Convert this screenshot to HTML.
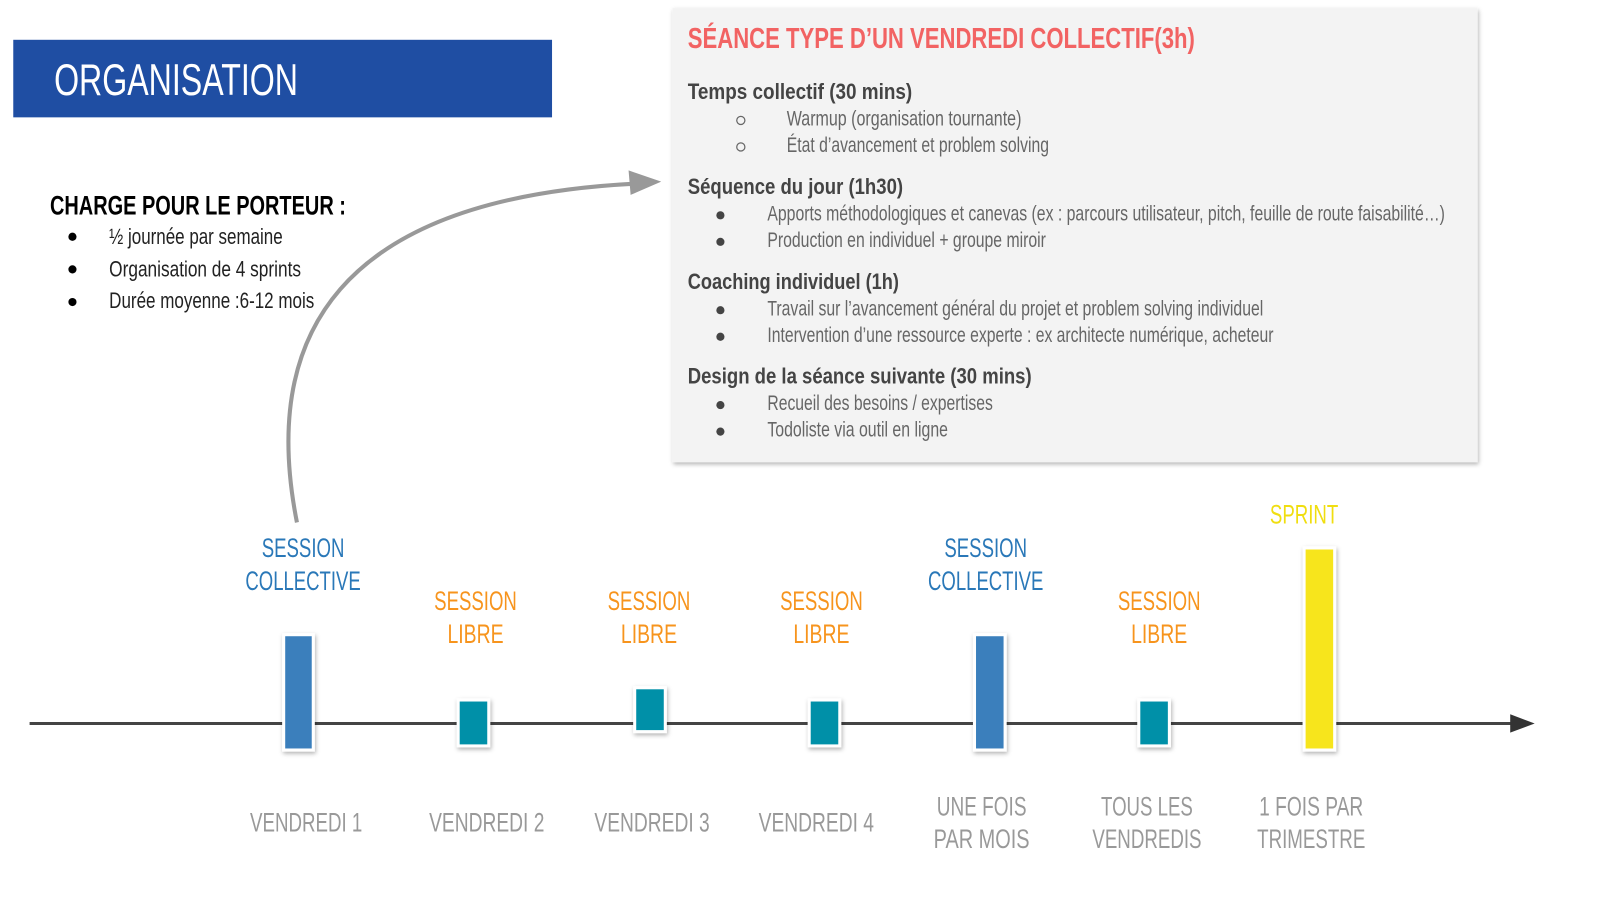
<!DOCTYPE html>
<html><head><meta charset="utf-8"><style>
html,body{margin:0;padding:0;background:#fff;width:1600px;height:900px;overflow:hidden}
text{font-family:"Liberation Sans",sans-serif}
</style></head><body>
<svg width="1600" height="900" viewBox="0 0 1568 882" preserveAspectRatio="none" xmlns="http://www.w3.org/2000/svg">
<defs>
<filter id="sh" x="-10%" y="-10%" width="130%" height="130%"><feDropShadow dx="1" dy="2" stdDeviation="2" flood-color="#000" flood-opacity="0.3"/></filter>
</defs>
<rect x="13" y="39" width="528" height="76" fill="#1f4ea3"/>
<text x="53" y="93" font-size="44" fill="#fff" textLength="239" lengthAdjust="spacingAndGlyphs">ORGANISATION</text>

<text x="49" y="210" font-size="26" font-weight="bold" fill="#000" textLength="290" lengthAdjust="spacingAndGlyphs">CHARGE POUR LE PORTEUR :</text>
<g font-size="22" fill="#222">
<circle cx="71" cy="232" r="4" fill="#000"/><circle cx="71" cy="264" r="4" fill="#000"/><circle cx="71" cy="296" r="4" fill="#000"/>
<text x="107" y="239" textLength="170" lengthAdjust="spacingAndGlyphs">½ journée par semaine</text>
<text x="107" y="271" textLength="188" lengthAdjust="spacingAndGlyphs">Organisation de 4 sprints</text>
<text x="107" y="302" textLength="201" lengthAdjust="spacingAndGlyphs">Durée moyenne :6-12 mois</text>
</g>

<rect x="659" y="8" width="789" height="445" fill="#f3f3f3" filter="url(#sh)"/>
<text x="674" y="47" font-size="28" font-weight="bold" fill="#f26363" textLength="497" lengthAdjust="spacingAndGlyphs">SÉANCE TYPE D’UN VENDREDI COLLECTIF(3h)</text>
<g font-size="22" font-weight="bold" fill="#444">
<text x="674" y="97" textLength="220" lengthAdjust="spacingAndGlyphs">Temps collectif (30 mins)</text>
<text x="674" y="190" textLength="211" lengthAdjust="spacingAndGlyphs">Séquence du jour (1h30)</text>
<text x="674" y="283" textLength="207" lengthAdjust="spacingAndGlyphs">Coaching individuel (1h)</text>
<text x="674" y="376" textLength="337" lengthAdjust="spacingAndGlyphs">Design de la séance suivante (30 mins)</text>
</g>
<g font-size="21" fill="#666">
<circle cx="726" cy="118" r="4" fill="none" stroke="#666" stroke-width="1.2"/>
<circle cx="726" cy="144" r="4" fill="none" stroke="#666" stroke-width="1.2"/>
<text x="771" y="123" textLength="230" lengthAdjust="spacingAndGlyphs">Warmup (organisation tournante)</text>
<text x="771" y="149" textLength="257" lengthAdjust="spacingAndGlyphs">État d’avancement et problem solving</text>
<g fill="#444"><circle cx="706" cy="211" r="4"/><circle cx="706" cy="237" r="4"/><circle cx="706" cy="304" r="4"/><circle cx="706" cy="330" r="4"/><circle cx="706" cy="397" r="4"/><circle cx="706" cy="423" r="4"/></g>
<text x="752" y="216" textLength="664" lengthAdjust="spacingAndGlyphs">Apports méthodologiques et canevas (ex : parcours utilisateur, pitch, feuille de route faisabilité…)</text>
<text x="752" y="242" textLength="273" lengthAdjust="spacingAndGlyphs">Production en individuel + groupe miroir</text>
<text x="752" y="309" textLength="486" lengthAdjust="spacingAndGlyphs">Travail sur l’avancement général du projet et problem solving individuel</text>
<text x="752" y="335" textLength="496" lengthAdjust="spacingAndGlyphs">Intervention d’une ressource experte : ex architecte numérique, acheteur</text>
<text x="752" y="402" textLength="221" lengthAdjust="spacingAndGlyphs">Recueil des besoins / expertises</text>
<text x="752" y="428" textLength="177" lengthAdjust="spacingAndGlyphs">Todoliste via outil en ligne</text>
</g>

<path d="M291,512 C 255,330 330,195 622,180" fill="none" stroke="#999" stroke-width="4"/>
<polygon points="648,178 616,167 618,191" fill="#999"/>

<line x1="29" y1="709" x2="1485" y2="709" stroke="#444" stroke-width="3"/>
<polygon points="1504,709 1480,700 1480,718" fill="#333"/>

<g stroke="#fff" stroke-width="3" filter="url(#sh)">
<rect x="278" y="622" width="29" height="113" fill="#3a7fbc"/>
<rect x="449" y="686" width="30" height="45" fill="#0090a8"/>
<rect x="622" y="674" width="30" height="43" fill="#0090a8"/>
<rect x="793" y="686" width="30" height="45" fill="#0090a8"/>
<rect x="955" y="622" width="30" height="113" fill="#3a7fbc"/>
<rect x="1116" y="686" width="30" height="45" fill="#0090a8"/>
<rect x="1278" y="537" width="30" height="198" fill="#f7e51b"/>
</g>

<g font-size="26" text-anchor="middle">
<g fill="#2a78b8">
<text x="297" y="546" textLength="81" lengthAdjust="spacingAndGlyphs">SESSION</text>
<text x="297" y="578" textLength="113" lengthAdjust="spacingAndGlyphs">COLLECTIVE</text>
<text x="966" y="546" textLength="81" lengthAdjust="spacingAndGlyphs">SESSION</text>
<text x="966" y="578" textLength="113" lengthAdjust="spacingAndGlyphs">COLLECTIVE</text>
</g>
<g fill="#f7941d">
<text x="466" y="598" textLength="81" lengthAdjust="spacingAndGlyphs">SESSION</text>
<text x="466" y="630" textLength="55" lengthAdjust="spacingAndGlyphs">LIBRE</text>
<text x="636" y="598" textLength="81" lengthAdjust="spacingAndGlyphs">SESSION</text>
<text x="636" y="630" textLength="55" lengthAdjust="spacingAndGlyphs">LIBRE</text>
<text x="805" y="598" textLength="81" lengthAdjust="spacingAndGlyphs">SESSION</text>
<text x="805" y="630" textLength="55" lengthAdjust="spacingAndGlyphs">LIBRE</text>
<text x="1136" y="598" textLength="81" lengthAdjust="spacingAndGlyphs">SESSION</text>
<text x="1136" y="630" textLength="55" lengthAdjust="spacingAndGlyphs">LIBRE</text>
</g>
<text x="1278" y="513" fill="#f0de10" textLength="67" lengthAdjust="spacingAndGlyphs">SPRINT</text>
<g fill="#999">
<text x="300" y="815" textLength="110" lengthAdjust="spacingAndGlyphs">VENDREDI 1</text>
<text x="477" y="815" textLength="113" lengthAdjust="spacingAndGlyphs">VENDREDI 2</text>
<text x="639" y="815" textLength="113" lengthAdjust="spacingAndGlyphs">VENDREDI 3</text>
<text x="800" y="815" textLength="113" lengthAdjust="spacingAndGlyphs">VENDREDI 4</text>
<text x="962" y="799" textLength="88" lengthAdjust="spacingAndGlyphs">UNE FOIS</text>
<text x="962" y="831" textLength="94" lengthAdjust="spacingAndGlyphs">PAR MOIS</text>
<text x="1124" y="799" textLength="90" lengthAdjust="spacingAndGlyphs">TOUS LES</text>
<text x="1124" y="831" textLength="107" lengthAdjust="spacingAndGlyphs">VENDREDIS</text>
<text x="1285" y="799" textLength="102" lengthAdjust="spacingAndGlyphs">1 FOIS PAR</text>
<text x="1285" y="831" textLength="106" lengthAdjust="spacingAndGlyphs">TRIMESTRE</text>
</g>
</g>
</svg>
</body></html>
